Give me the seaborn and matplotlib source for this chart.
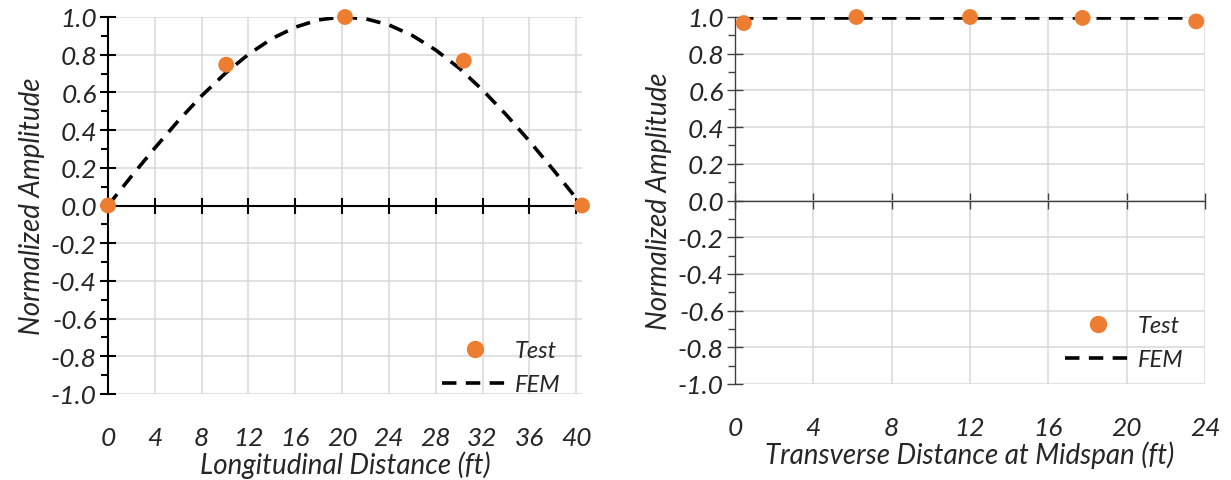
import numpy as np
import pandas as pd
import matplotlib
matplotlib.use("Agg")
import matplotlib.pyplot as plt
import seaborn as sns
from matplotlib.ticker import FormatStrFormatter, MultipleLocator
from matplotlib.lines import Line2D

# left panel - longitudinal mode shape
long_test_x = [0, 10.1, 20.25, 30.4, 40.5]
long_test_y = [0.0, 0.747, 1.0, 0.768, 0.0]
long_fem_x = [0, 2, 4, 6, 8, 10, 12, 14, 16, 18, 20, 22, 24, 26, 28, 30, 32, 34, 36, 38, 40, 40.5]
long_fem_y = [0.0, 0.155, 0.305, 0.449, 0.582, 0.700, 0.802, 0.885, 0.946, 0.985, 1.0,
              0.991, 0.958, 0.902, 0.825, 0.729, 0.613, 0.483, 0.342, 0.193, 0.039, 0.0]

# right panel - transverse mode shape at midspan
trans_test_x = [0.45, 6.2, 12.0, 17.75, 23.55]
trans_test_y = [0.967, 1.0, 1.0, 0.995, 0.976]
trans_fem_x = [0.2, 6.2, 12.0, 17.75, 23.6]
trans_fem_y = [0.995, 0.995, 0.995, 0.995, 0.995]

long_ticks = list(range(0, 41, 4))
trans_ticks = list(range(0, 25, 4))
amp_ticks = [-1.0, -0.8, -0.6, -0.4, -0.2, 0.0, 0.2, 0.4, 0.6, 0.8, 1.0]

sns.set_style("whitegrid")
plt.rcParams['font.family'] = ['Lato', 'DejaVu Sans']
plt.rcParams['font.style'] = 'italic'
plt.rcParams['axes.unicode_minus'] = False

orange = '#ED7D31'
fs = 19

fig = plt.figure(figsize=(12.31, 4.81), dpi=100)
ax1 = fig.add_axes([108 / 1231, 1 - 395 / 481, 474 / 1231, 377 / 481])
ax2 = fig.add_axes([735 / 1231, 1 - 385 / 481, 470 / 1231, 367 / 481])


def draw_panel(ax, tx, ty, fx, fy, xticks, xmax, xlabel, axcol, lw, leg_anchor, tpad):
    df_t = pd.DataFrame({'x': tx, 'y': ty})
    df_f = pd.DataFrame({'x': fx, 'y': fy})
    sns.lineplot(data=df_f, x='x', y='y', ax=ax, color='black', lw=2.6,
                 dashes=False, sort=False, zorder=3)
    ax.lines[-1].set_dashes((4, 2.6))
    sns.scatterplot(data=df_t, x='x', y='y', ax=ax, color=orange, s=130,
                    edgecolor='none', zorder=4, clip_on=False)

    ax.set_xlim(0, xmax)
    ax.set_ylim(-1, 1)
    ax.set_xticks(xticks)
    ax.set_yticks(amp_ticks)
    ax.yaxis.set_major_formatter(FormatStrFormatter('%.1f'))
    ax.yaxis.set_minor_locator(MultipleLocator(0.1))
    ax.grid(True, color='#d9d9d9', lw=1.1)
    ax.grid(False, which='minor')

    for s in ['top', 'right']:
        ax.spines[s].set_visible(False)
    ax.spines['left'].set_color(axcol)
    ax.spines['left'].set_linewidth(lw)
    ax.spines['bottom'].set_position(('data', 0))
    ax.spines['bottom'].set_color(axcol)
    ax.spines['bottom'].set_linewidth(lw)

    ax.tick_params(axis='y', which='major', direction='inout', length=12,
                   width=lw, color=axcol, labelsize=fs, pad=2, left=True)
    ax.tick_params(axis='y', which='minor', direction='out', length=5,
                   width=lw, color=axcol, left=True)
    ax.tick_params(axis='x', which='major', direction='inout', length=12,
                   width=lw, color=axcol, labelbottom=False, bottom=True)

    sec = ax.secondary_xaxis(0)
    sec.set_xticks(xticks)
    sec.tick_params(length=0, labelsize=fs, pad=tpad)
    for s in sec.spines.values():
        s.set_visible(False)
    sec.set_xlabel(xlabel, fontsize=20, labelpad=1)

    ax.set_xlabel('')
    ax.set_ylabel('Normalized Amplitude', fontsize=20, labelpad=4)

    handles = [Line2D([], [], ls='none', marker='o', color=orange, markersize=11.5),
               Line2D([], [], color='black', lw=2.6, dashes=(4, 2.6))]
    ax.legend(handles, ['Test', 'FEM'], loc='lower right', bbox_to_anchor=leg_anchor,
              frameon=False, fontsize=17, handlelength=2.8, handletextpad=0.3,
              labelspacing=0.55)


draw_panel(ax1, long_test_x, long_test_y, long_fem_x, long_fem_y, long_ticks, 40.5,
           'Longitudinal Distance (ft)', 'black', 1.5, (1.0, -0.06), 23)
draw_panel(ax2, trans_test_x, trans_test_y, trans_fem_x, trans_fem_y, trans_ticks, 24,
           'Transverse Distance at Midspan (ft)', '#404040', 1.0, (1.0, -0.02), 23)

fig.savefig('out.png', dpi=100)
